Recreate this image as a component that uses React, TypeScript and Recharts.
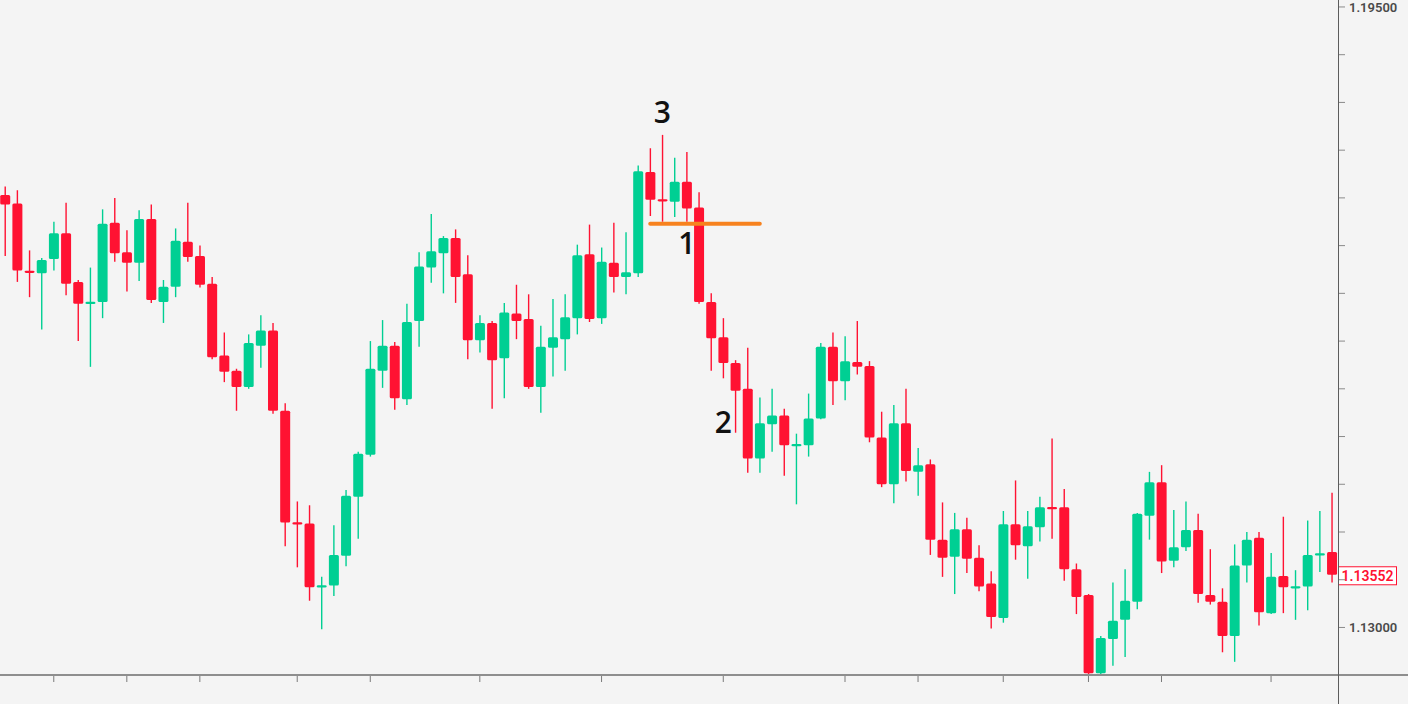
import React from "react";
import {
  ComposedChart, Bar, XAxis, YAxis, ReferenceLine, ReferenceDot,
} from "recharts";

// OHLC, one entry per candle (left to right)
const opens = [
  1.1753, 1.1744, 1.1673, 1.1671, 1.1686, 1.1713, 1.1662, 1.1639, 1.1641, 1.1724,
  1.1693, 1.1682, 1.1728, 1.1641, 1.1657, 1.1704, 1.1689, 1.1660, 1.1585, 1.1569,
  1.1552, 1.1595, 1.1611, 1.1527, 1.1410, 1.1409, 1.1342, 1.1344, 1.1375, 1.1437,
  1.1481, 1.1569, 1.1595, 1.1539, 1.1621, 1.1677, 1.1692, 1.1708, 1.1670, 1.1601,
  1.1619, 1.1582, 1.1629, 1.1623, 1.1552, 1.1593, 1.1602, 1.1624, 1.1691, 1.1624,
  1.1682, 1.1667, 1.1671, 1.1777, 1.1748, 1.1746, 1.1767, 1.1740, 1.1641, 1.1604,
  1.1577, 1.1550, 1.1477, 1.1513, 1.1522, 1.1490, 1.1491, 1.1519, 1.1594, 1.1558,
  1.1578, 1.1574, 1.1499, 1.1450, 1.1514, 1.1463, 1.1471, 1.1392, 1.1374, 1.1403,
  1.1373, 1.1346, 1.1310, 1.1408, 1.1385, 1.1405, 1.1426, 1.1426, 1.1361, 1.1334,
  1.1252, 1.1288, 1.1308, 1.1327, 1.1417, 1.1452, 1.1370, 1.1384, 1.1402, 1.1334,
  1.1327, 1.1291, 1.1365, 1.1394, 1.1315, 1.1354, 1.1341, 1.1343, 1.1376, 1.1379,
];
const highs = [
  1.1762, 1.1758, 1.1695, 1.1687, 1.1725, 1.1745, 1.1664, 1.1677, 1.1738, 1.1750,
  1.1716, 1.1737, 1.1743, 1.1664, 1.1718, 1.1745, 1.1700, 1.1667, 1.1609, 1.1571,
  1.1607, 1.1627, 1.1619, 1.1535, 1.1432, 1.1428, 1.1353, 1.1407, 1.1444, 1.1484,
  1.1600, 1.1622, 1.1599, 1.1639, 1.1693, 1.1733, 1.1710, 1.1717, 1.1690, 1.1627,
  1.1621, 1.1640, 1.1659, 1.1649, 1.1616, 1.1644, 1.1649, 1.1701, 1.1722, 1.1698,
  1.1724, 1.1714, 1.1784, 1.1802, 1.1816, 1.1792, 1.1798, 1.1756, 1.1650, 1.1624,
  1.1580, 1.1593, 1.1541, 1.1550, 1.1529, 1.1503, 1.1545, 1.1598, 1.1609, 1.1605,
  1.1621, 1.1579, 1.1526, 1.1533, 1.1550, 1.1488, 1.1476, 1.1431, 1.1420, 1.1415,
  1.1386, 1.1359, 1.1422, 1.1454, 1.1422, 1.1437, 1.1498, 1.1445, 1.1367, 1.1335,
  1.1291, 1.1347, 1.1361, 1.1420, 1.1463, 1.1470, 1.1423, 1.1432, 1.1419, 1.1382,
  1.1341, 1.1387, 1.1400, 1.1400, 1.1378, 1.1416, 1.1360, 1.1412, 1.1422, 1.1441,
];
const lows = [
  1.1689, 1.1662, 1.1646, 1.1612, 1.1674, 1.1648, 1.1600, 1.1573, 1.1624, 1.1683,
  1.1652, 1.1663, 1.1640, 1.1619, 1.1646, 1.1683, 1.1656, 1.1581, 1.1557, 1.1527,
  1.1550, 1.1572, 1.1524, 1.1385, 1.1363, 1.1328, 1.1298, 1.1333, 1.1364, 1.1393,
  1.1479, 1.1551, 1.1528, 1.1533, 1.1594, 1.1661, 1.1650, 1.1640, 1.1581, 1.1588,
  1.1529, 1.1540, 1.1602, 1.1550, 1.1525, 1.1563, 1.1569, 1.1607, 1.1620, 1.1618,
  1.1651, 1.1649, 1.1667, 1.1731, 1.1725, 1.1730, 1.1725, 1.1639, 1.1569, 1.1561,
  1.1504, 1.1462, 1.1462, 1.1484, 1.1459, 1.1429, 1.1479, 1.1518, 1.1533, 1.1538,
  1.1565, 1.1494, 1.1447, 1.1430, 1.1453, 1.1438, 1.1376, 1.1353, 1.1335, 1.1357,
  1.1338, 1.1299, 1.1305, 1.1371, 1.1351, 1.1390, 1.1393, 1.1349, 1.1314, 1.1251,
  1.1251, 1.1260, 1.1269, 1.1319, 1.1392, 1.1357, 1.1363, 1.1380, 1.1326, 1.1324,
  1.1274, 1.1264, 1.1347, 1.1302, 1.1314, 1.1315, 1.1308, 1.1318, 1.1358, 1.1347,
];
const closes = [
  1.1743, 1.1674, 1.1672, 1.1685, 1.1713, 1.1660, 1.1639, 1.1641, 1.1723, 1.1692,
  1.1682, 1.1728, 1.1643, 1.1657, 1.1705, 1.1688, 1.1659, 1.1583, 1.1568, 1.1552,
  1.1598, 1.1611, 1.1527, 1.1410, 1.1408, 1.1342, 1.1344, 1.1376, 1.1438, 1.1482,
  1.1571, 1.1595, 1.1540, 1.1620, 1.1678, 1.1694, 1.1708, 1.1667, 1.1601, 1.1619,
  1.1580, 1.1630, 1.1621, 1.1552, 1.1594, 1.1604, 1.1625, 1.1690, 1.1623, 1.1683,
  1.1667, 1.1672, 1.1778, 1.1748, 1.1747, 1.1767, 1.1739, 1.1641, 1.1603, 1.1577,
  1.1548, 1.1477, 1.1514, 1.1522, 1.1491, 1.1492, 1.1519, 1.1594, 1.1558, 1.1579,
  1.1573, 1.1499, 1.1450, 1.1514, 1.1464, 1.1470, 1.1392, 1.1373, 1.1403, 1.1372,
  1.1343, 1.1311, 1.1408, 1.1386, 1.1406, 1.1426, 1.1424, 1.1361, 1.1332, 1.1252,
  1.1289, 1.1307, 1.1328, 1.1419, 1.1452, 1.1369, 1.1384, 1.1402, 1.1335, 1.1327,
  1.1291, 1.1365, 1.1392, 1.1316, 1.1353, 1.1342, 1.1343, 1.1376, 1.1377, 1.13552,
];

// axis ticks
const xTicks = [4, 10, 16, 24, 30, 39, 49, 59, 69, 75, 82, 89, 95, 104];
const yTicks = [
  1.13, 1.135, 1.14, 1.145, 1.15, 1.155, 1.16, 1.165, 1.17, 1.175, 1.18, 1.185, 1.19, 1.195,
];
const yLabelled = [1.13, 1.195];

// hand-drawn marks on the chart
const notes = [
  { text: "3", at: 54, price: 1.184 },
  { text: "1", at: 56, price: 1.1702 },
  { text: "2", at: 59, price: 1.1515 },
];
const levelLine = { from: 53, to: 62, price: 1.1723 };

const RED = "#FF1232";
const GREEN = "#00CF93";
const BG = "#F4F4F4";

const rows = opens.map((o, i) => ({
  i,
  open: o,
  high: highs[i],
  low: lows[i],
  close: closes[i],
}));
const last = closes[closes.length - 1];

function Candle(props: any) {
  const { x, y, width, height, payload } = props;
  if (!payload) return null;
  const { open, close, high, low } = payload;
  const top = Math.min(y, y + height);
  const bot = Math.max(y, y + height);
  const k = (bot - top) / (high - low || 1);
  const cx = x + width / 2;
  const yO = top + (high - open) * k;
  const yC = top + (high - close) * k;
  const color = close >= open ? GREEN : RED;
  let bTop = Math.min(yO, yC);
  let bH = Math.abs(yO - yC);
  if (bH < 2.2) {
    bTop = (yO + yC) / 2 - 1.1;
    bH = 2.2;
  }
  return (
    <g>
      <line x1={cx} x2={cx} y1={top} y2={bot} stroke={color} strokeWidth={1.4} />
      <rect x={cx - 5} y={bTop} width={10} height={bH} rx={1.5} fill={color} />
    </g>
  );
}

function YTick(props: any) {
  const { x, y, payload } = props;
  const v = payload?.value;
  if (!yLabelled.some((t) => Math.abs(t - v) < 1e-9)) return <g />;
  return (
    <text
      x={x}
      y={y}
      dy={5}
      textAnchor="start"
      fontFamily="Roboto, 'Open Sans', sans-serif"
      fontWeight={600}
      fontSize={13}
      fill="#4a4a4a"
    >
      {v.toFixed(5)}
    </text>
  );
}

function PriceTag(props: any) {
  const vb = props.viewBox || {};
  const left = vb.x + vb.width + 0.5;
  const cy = vb.y;
  return (
    <g>
      <rect x={left} y={cy - 8} width={58} height={18} fill="#fff" stroke={RED} strokeWidth={1} />
      <text
        x={left + 29}
        y={cy + 6}
        textAnchor="middle"
        fontFamily="Roboto, 'Open Sans', sans-serif"
        fontWeight={600}
        fontSize={14}
        fill={RED}
      >
        {last.toFixed(5)}
      </text>
    </g>
  );
}

export default function App() {
  return (
    <div
      style={{
        position: "absolute",
        left: 0,
        top: 0,
        width: 1408,
        height: 704,
        background: BG,
        overflow: "hidden",
      }}
    >
      <ComposedChart
        width={1408}
        height={704}
        data={rows}
        margin={{ top: 0, right: 0, bottom: 0, left: -1 }}
      >
        <XAxis
          dataKey="i"
          ticks={xTicks}
          interval={0}
          height={29}
          axisLine={false}
          tickSize={7}
          tickLine={{ stroke: "#7a7a7a" }}
          tick={() => <g />}
        />
        <YAxis
          orientation="right"
          width={70}
          domain={[1.12502, 1.19573]}
          allowDataOverflow
          ticks={yTicks}
          interval={0}
          axisLine={false}
          tickSize={7}
          tickMargin={4}
          tickLine={{ stroke: "#8a8a8a" }}
          tick={<YTick />}
        />
        <Bar
          dataKey={(d: any) => [d.low, d.high]}
          shape={Candle}
          isAnimationActive={false}
        />
        <ReferenceLine
          segment={[
            { x: levelLine.from, y: levelLine.price },
            { x: levelLine.to, y: levelLine.price },
          ]}
          stroke="#F7821E"
          strokeWidth={4}
          strokeLinecap="round"
        />
        {notes.map((n) => (
          <ReferenceDot
            key={n.text}
            x={n.at}
            y={n.price}
            r={0}
            fill="none"
            stroke="none"
            label={{
              value: n.text,
              position: "center",
              fontSize: 30,
              fontWeight: 600,
              fontFamily: "'Open Sans', sans-serif",
              fill: "#111",
            }}
          />
        ))}
        <ReferenceLine y={last} stroke="none" ifOverflow="visible" label={<PriceTag />} />
      </ComposedChart>
      <div
        style={{ position: "absolute", left: 0, top: 674, width: 1408, height: 2, background: "#8e8e8e" }}
      />
      <div
        style={{ position: "absolute", left: 1338, top: 0, width: 1, height: 704, background: "#5c5c5c" }}
      />
    </div>
  );
}
